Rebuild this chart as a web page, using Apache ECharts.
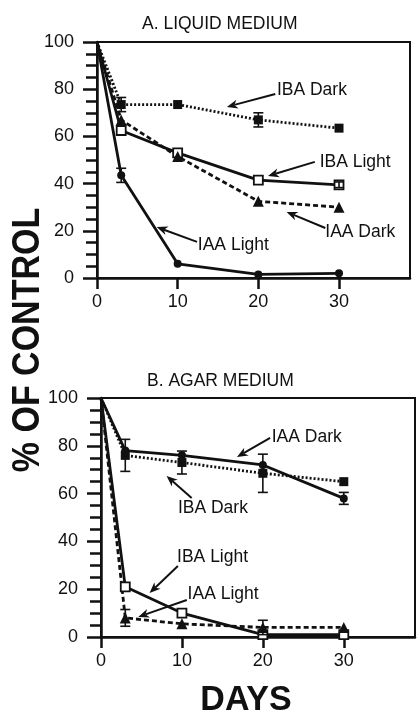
<!DOCTYPE html>
<html>
<head>
<meta charset="utf-8">
<script src="https://cdn.jsdelivr.net/npm/echarts@6/dist/echarts.min.js"></script>
<style>
html, body { margin: 0; padding: 0; background: #fff; }
#chart { width: 417px; height: 715px; }
</style>
</head>
<body>
<div id="chart"></div>
<script>
var days = [0, 3, 10, 20, 30];
var xTicks = [0, 10, 20, 30];
var yTicks = [0, 20, 40, 60, 80, 100];

// A. liquid medium (% of control)
var liqIbaDark = [100, 73.5, 73.5, 67, 63.5];
var liqIbaDarkErr = [0, 3, 0, 3, 0];
var liqIbaLight = [100, 62.5, 53, 41.5, 39.5];
var liqIbaLightErr = [0, 0, 0, 0, 1.2];
var liqIaaDark = [100, 67, 51.5, 32.5, 30];
var liqIaaLight = [100, 43.5, 6, 1.5, 2];
var liqIaaLightErr = [0, 3, 0, 0, 0];

// B. agar medium
var agarIaaDark = [100, 78, 76, 72, 58];
var agarIaaDarkErr = [0, 0, 0, 0, 2.5];
var agarIbaDark = [100, 76, 73, 68.5, 65];
var agarIbaDarkErr = [0, 6.7, 4.8, 8, 0];
var agarIbaLight = [100, 21, 10, 1, 1];
var agarIaaLight = [100, 8, 5.5, 4, 4];
var agarIaaLightErr = [0, 3.5, 0, 3, 0];

// arrow labels, in data units of each panel
var notes = [
  { g: 0, text: 'IBA Dark', at: [22.3, 79.7], from: [22.1, 78], to: [16.1, 72.5] },
  { g: 0, text: 'IBA Light', at: [27.6, 49.2], from: [27.0, 49.2], to: [21.2, 43.2] },
  { g: 0, text: 'IAA Dark', at: [28.3, 19.5], from: [28.3, 21.2], to: [23.5, 28] },
  { g: 0, text: 'IAA Light', at: [12.5, 14], from: [12.4, 15.3], to: [7.4, 21.6] },
  { g: 1, text: 'IAA Dark', at: [21.1, 83.7], from: [20.9, 83.3], to: [16.8, 75.3] },
  { g: 1, text: 'IBA Dark', at: [9.5, 54], from: [11.2, 58.2], to: [8.1, 67.4] },
  { g: 1, text: 'IBA Light', at: [9.4, 33.5], from: [9.5, 29.7], to: [6.0, 18.4] },
  { g: 1, text: 'IAA Light', at: [10.7, 18], from: [10.6, 15.5], to: [4.6, 8.4] }
];

var ink = '#111';
var font = '"Liberation Sans", Arial, sans-serif';

function pts(vals) {
  return days.map(function (d, i) {
    var p = { value: [d, vals[i]] };
    if (d === 0) p.symbol = 'none';
    return p;
  });
}

function line(g, vals, sym, dash, open) {
  return {
    type: 'line', xAxisIndex: g, yAxisIndex: g,
    data: pts(vals),
    symbol: sym,
    symbolSize: sym === 'triangle' ? 11 : (sym === 'circle' ? 8 : 9),
    showAllSymbol: true,
    z: 3,
    lineStyle: { color: ink, width: 2.8, type: dash },
    itemStyle: open ? { color: '#fff', borderColor: ink, borderWidth: 1.8 } : { color: ink },
    silent: true, animation: false
  };
}

function errBars(g, vals, errs) {
  var data = [];
  days.forEach(function (d, i) {
    if (errs[i]) data.push([d, vals[i] - errs[i], vals[i] + errs[i]]);
  });
  return {
    type: 'custom', xAxisIndex: g, yAxisIndex: g, data: data, z: 4,
    silent: true, animation: false,
    encode: { x: 0, y: [1, 2] },
    renderItem: function (params, api) {
      var lo = api.coord([api.value(0), api.value(1)]);
      var hi = api.coord([api.value(0), api.value(2)]);
      var w = 5;
      var st = { stroke: ink, lineWidth: 1.6 };
      return {
        type: 'group', children: [
          { type: 'line', shape: { x1: lo[0], y1: lo[1], x2: hi[0], y2: hi[1] }, style: st },
          { type: 'line', shape: { x1: lo[0] - w, y1: lo[1], x2: lo[0] + w, y2: lo[1] }, style: st },
          { type: 'line', shape: { x1: hi[0] - w, y1: hi[1], x2: hi[0] + w, y2: hi[1] }, style: st }
        ]
      };
    }
  };
}

function xAxis(g) {
  return {
    type: 'value', gridIndex: g, min: 0, max: 38.8,
    splitLine: { show: false },
    axisLine: { onZero: false, lineStyle: { color: ink, width: 2.5 } },
    axisTick: { length: 11, customValues: xTicks, lineStyle: { color: ink, width: 2.5 } },
    axisLabel: { customValues: xTicks, color: ink, fontSize: 18, fontFamily: font, margin: 15 }
  };
}

function yAxis(g) {
  return {
    type: 'value', gridIndex: g, min: 0, max: 100, interval: 20,
    splitLine: { show: false },
    axisLine: { lineStyle: { color: ink, width: 2.5 } },
    axisTick: { length: 14, lineStyle: { color: ink, width: 2.5 } },
    minorTick: { show: true, splitNumber: 4, length: 11, lineStyle: { color: ink, width: 2.5 } },
    axisLabel: { color: ink, fontSize: 18, fontFamily: font, margin: 23 }
  };
}

var chart = echarts.init(document.getElementById('chart'));

var option = {
  backgroundColor: '#fff',
  animation: false,
  title: [
    { text: 'A. LIQUID MEDIUM', left: 137, top: 10, textStyle: { color: ink, fontSize: 17.5, fontWeight: 'normal', fontFamily: font } },
    { text: 'B. AGAR MEDIUM', left: 142, top: 367, textStyle: { color: ink, fontSize: 17.5, fontWeight: 'normal', fontFamily: font } }
  ],
  grid: [
    { left: 97, top: 42, width: 313, height: 236, show: true, borderColor: ink, borderWidth: 2, backgroundColor: 'transparent' },
    { left: 101, top: 398, width: 314, height: 239, show: true, borderColor: ink, borderWidth: 2, backgroundColor: 'transparent' }
  ],
  xAxis: [xAxis(0), xAxis(1)],
  yAxis: [yAxis(0), yAxis(1)],
  series: [
    line(0, liqIbaDark, 'rect', [2, 2], false),
    line(0, liqIbaLight, 'rect', 'solid', true),
    line(0, liqIaaDark, 'triangle', [5, 3], false),
    line(0, liqIaaLight, 'circle', 'solid', false),
    errBars(0, liqIbaDark, liqIbaDarkErr),
    errBars(0, liqIbaLight, liqIbaLightErr),
    errBars(0, liqIaaLight, liqIaaLightErr),
    line(1, agarIaaDark, 'circle', 'solid', false),
    line(1, agarIbaDark, 'rect', [2, 2], false),
    line(1, agarIbaLight, 'rect', 'solid', true),
    line(1, agarIaaLight, 'triangle', [5, 3], false),
    errBars(1, agarIaaDark, agarIaaDarkErr),
    errBars(1, agarIbaDark, agarIbaDarkErr),
    errBars(1, agarIaaLight, agarIaaLightErr)
  ]
};
chart.setOption(option);

// labels, arrows and axis titles
var gfx = [];
notes.forEach(function (n) {
  var t = chart.convertToPixel({ gridIndex: n.g }, n.at);
  var a = chart.convertToPixel({ gridIndex: n.g }, n.from);
  var b = chart.convertToPixel({ gridIndex: n.g }, n.to);
  var dx = b[0] - a[0], dy = b[1] - a[1];
  var len = Math.sqrt(dx * dx + dy * dy);
  var ux = dx / len, uy = dy / len;
  var L = 11, W = 4.5;
  var nx = b[0] - ux * L * 0.7, ny = b[1] - uy * L * 0.7;
  gfx.push({
    type: 'text', silent: true,
    style: { text: n.text, x: t[0], y: t[1], fill: ink, font: '17.5px ' + font, verticalAlign: 'middle' }
  });
  gfx.push({
    type: 'line', silent: true,
    shape: { x1: a[0], y1: a[1], x2: nx, y2: ny },
    style: { stroke: ink, lineWidth: 2 }
  });
  gfx.push({
    type: 'polygon', silent: true,
    shape: { points: [
      [b[0], b[1]],
      [b[0] - ux * L - uy * W, b[1] - uy * L + ux * W],
      [nx, ny],
      [b[0] - ux * L + uy * W, b[1] - uy * L - ux * W]
    ] },
    style: { fill: ink }
  });
});
gfx.push({
  type: 'text', silent: true, x: 28, y: 340, rotation: Math.PI / 2, scaleY: 1.15,
  style: { text: '% OF CONTROL', fill: ink, font: 'bold 34px ' + font, align: 'center', verticalAlign: 'middle' }
});
gfx.push({
  type: 'text', silent: true, x: 246, y: 700, scaleY: 1.05,
  style: { text: 'DAYS', fill: ink, font: 'bold 34px ' + font, align: 'center', verticalAlign: 'middle' }
});
chart.setOption({ graphic: gfx });
</script>
</body>
</html>
